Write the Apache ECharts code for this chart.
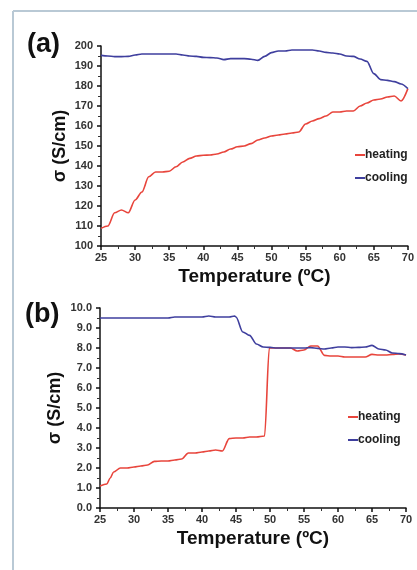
<!DOCTYPE html>
<html>
<head>
<meta charset="utf-8">
<script src="https://cdn.jsdelivr.net/npm/echarts@6/dist/echarts.min.js"></script>
<style>
  html, body { margin: 0; padding: 0; background: #fff; }
  #main { width: 417px; height: 570px; }
</style>
</head>
<body>
<div id="main"></div>
<script>
// panel (a): temperature (ºC) vs conductivity (S/cm)
const tempA = [25, 26, 27, 28, 29, 30, 31, 32, 33, 34, 35, 36, 37, 38, 39, 40, 41, 42, 43, 44, 45, 46, 47, 48, 49, 50,
  51, 52, 53, 54, 55, 56, 57, 58, 59, 60, 61, 62, 63, 64, 65, 66, 67, 68, 69, 70];
const heatingA = [108.8, 110, 116.6, 118, 116.6, 123, 127, 134.6, 137, 137, 137.4, 139.6, 142, 143.8, 145, 145.4,
  145.5, 146, 147, 148.5, 149.6, 150, 151.2, 153, 154, 155, 155.5, 156, 156.5, 157, 161, 162.5, 163.7, 165, 167,
  167, 167.5, 167.5, 170, 171.5, 173, 173.5, 174.5, 175, 172.5, 178.7];
const coolingA = [195.3, 195, 194.7, 194.7, 194.8, 195.5, 196, 196, 196, 196, 196, 196, 195.5, 195, 194.8, 194.3,
  194.2, 194, 193.2, 193.7, 193.7, 193.7, 193.4, 192.8, 194.8, 196.7, 197.5, 197.5, 198, 198, 198, 198, 197.5,
  196.8, 196.5, 196, 195, 194.8, 193.5, 192.3, 186.2, 183.2, 182.8, 182.2, 181, 178.7];

// panel (b)
const tempHeatB = [25, 26, 26.5, 27, 28, 29, 30, 31, 32, 33, 34, 35, 36, 37, 38, 39, 40, 41, 42, 43, 44, 45, 46, 47,
  48, 49.2, 49.9, 51, 52, 53, 54, 55, 56, 57, 58, 59, 60, 61, 62, 63, 64, 65, 66, 67, 68, 69, 70];
const heatingB = [1.1, 1.2, 1.5, 1.8, 2.0, 2.0, 2.05, 2.1, 2.15, 2.33, 2.35, 2.35, 2.4, 2.45, 2.75, 2.75, 2.8, 2.85,
  2.9, 2.85, 3.47, 3.5, 3.5, 3.55, 3.55, 3.6, 8.0, 8.0, 8.0, 8.0, 7.85, 7.9, 8.1, 8.1, 7.63, 7.6, 7.6, 7.55, 7.55,
  7.55, 7.55, 7.68, 7.65, 7.65, 7.68, 7.7, 7.65];
const tempCoolB = [25, 27, 29, 31, 33, 35, 36, 38, 40, 41, 42, 43, 44, 44.8, 45, 46, 47, 48, 49, 50, 51, 52, 53, 54,
  55, 56, 57, 58, 59, 60, 61, 62, 63, 64, 65, 66, 67, 68, 69, 70];
const coolingB = [9.5, 9.5, 9.5, 9.5, 9.5, 9.5, 9.55, 9.55, 9.55, 9.6, 9.55, 9.55, 9.55, 9.6, 9.55, 8.8, 8.63, 8.2,
  8.05, 8.03, 8.0, 8.0, 8.0, 8.0, 8.0, 8.02, 7.98, 7.95, 8.0, 8.05, 8.05, 8.02, 8.03, 8.05, 8.13, 7.95, 7.9, 7.75,
  7.72, 7.65];

const xTicks = { min: 25, max: 70, interval: 5 };
const yTicksA = { min: 100, max: 200, interval: 10 };
const yTicksB = { min: 0, max: 10, interval: 1 };

const RED = '#e8453c';
const BLUE = '#3f3f9e';
const FONT = 'Liberation Sans, Arial, sans-serif';

function zip(xs, ys) {
  return xs.map((x, i) => [x, ys[i]]);
}

function makeXAxis(gridIndex) {
  return {
    type: 'value',
    gridIndex,
    min: xTicks.min,
    max: xTicks.max,
    interval: xTicks.interval,
    name: 'Temperature (ºC)',
    nameLocation: 'middle',
    nameGap: 21,
    nameTextStyle: { fontFamily: FONT, fontWeight: 'bold', fontSize: 19, color: '#111' },
    axisLine: { lineStyle: { color: '#111', width: 1.5 } },
    axisTick: { length: 4, lineStyle: { color: '#111', width: 1.5 } },
    minorTick: { show: true, splitNumber: 2, length: 3, lineStyle: { color: '#333' } },
    splitLine: { show: false },
    axisLabel: { fontFamily: FONT, fontWeight: 'bold', fontSize: 11, color: '#333', margin: 6 }
  };
}

function makeYAxis(gridIndex, ticks, digits, gap) {
  return {
    type: 'value',
    gridIndex,
    min: ticks.min,
    max: ticks.max,
    interval: ticks.interval,
    name: 'σ (S/cm)',
    nameLocation: 'middle',
    nameGap: gap,
    nameMoveOverlap: false,
    nameTextStyle: { fontFamily: FONT, fontWeight: 'bold', fontSize: 18, color: '#111' },
    axisLine: { show: true, lineStyle: { color: '#111', width: 1.5 } },
    axisTick: { show: true, length: 4, lineStyle: { color: '#111', width: 1.5 } },
    minorTick: { show: true, splitNumber: 2, length: 3, lineStyle: { color: '#333' } },
    splitLine: { show: false },
    axisLabel: {
      fontFamily: FONT, fontWeight: 'bold', fontSize: 11, color: '#333', margin: 8,
      formatter: v => v.toFixed(digits)
    }
  };
}

function makeLine(name, data, color, idx) {
  return {
    name,
    type: 'line',
    xAxisIndex: idx,
    yAxisIndex: idx,
    data,
    smooth: 0.3,
    smoothMonotone: 'x',
    showSymbol: false,
    lineStyle: { color, width: 1.6 },
    itemStyle: { color }
  };
}

function makeLegend(left, top) {
  return {
    orient: 'vertical',
    left,
    top,
    itemGap: 11,
    itemWidth: 10,
    itemHeight: 2,
    icon: 'rect',
    data: ['heating', 'cooling'],
    textStyle: { fontFamily: FONT, fontWeight: 'bold', fontSize: 12, color: '#222', padding: [0, 0, 0, -5] },
    selectedMode: false
  };
}

const chart = echarts.init(document.getElementById('main'));
chart.setOption({
  animation: false,
  grid: [
    { left: 101, right: 8, top: 46, height: 200 },
    { left: 100, right: 11, top: 308, height: 200 }
  ],
  xAxis: [makeXAxis(0), makeXAxis(1)],
  yAxis: [makeYAxis(0, yTicksA, 0, 32), makeYAxis(1, yTicksB, 1, 36)],
  legend: [makeLegend(350, 144), makeLegend(343, 406)],
  series: [
    makeLine('heating', zip(tempA, heatingA), RED, 0),
    makeLine('cooling', zip(tempA, coolingA), BLUE, 0),
    makeLine('heating', zip(tempHeatB, heatingB), RED, 1),
    makeLine('cooling', zip(tempCoolB, coolingB), BLUE, 1)
  ],
  graphic: [
    { type: 'line', shape: { x1: 13, y1: 11, x2: 13, y2: 570 }, style: { stroke: '#b9c9d5', lineWidth: 2 } },
    { type: 'line', shape: { x1: 13, y1: 11, x2: 417, y2: 11 }, style: { stroke: '#b9c9d5', lineWidth: 2 } },
    { type: 'text', left: 27, top: 31, style: { text: '(a)', font: 'bold 27px ' + FONT, fill: '#111' } },
    { type: 'text', left: 25, top: 301, style: { text: '(b)', font: 'bold 27px ' + FONT, fill: '#111' } }
  ]
});
</script>
</body>
</html>
